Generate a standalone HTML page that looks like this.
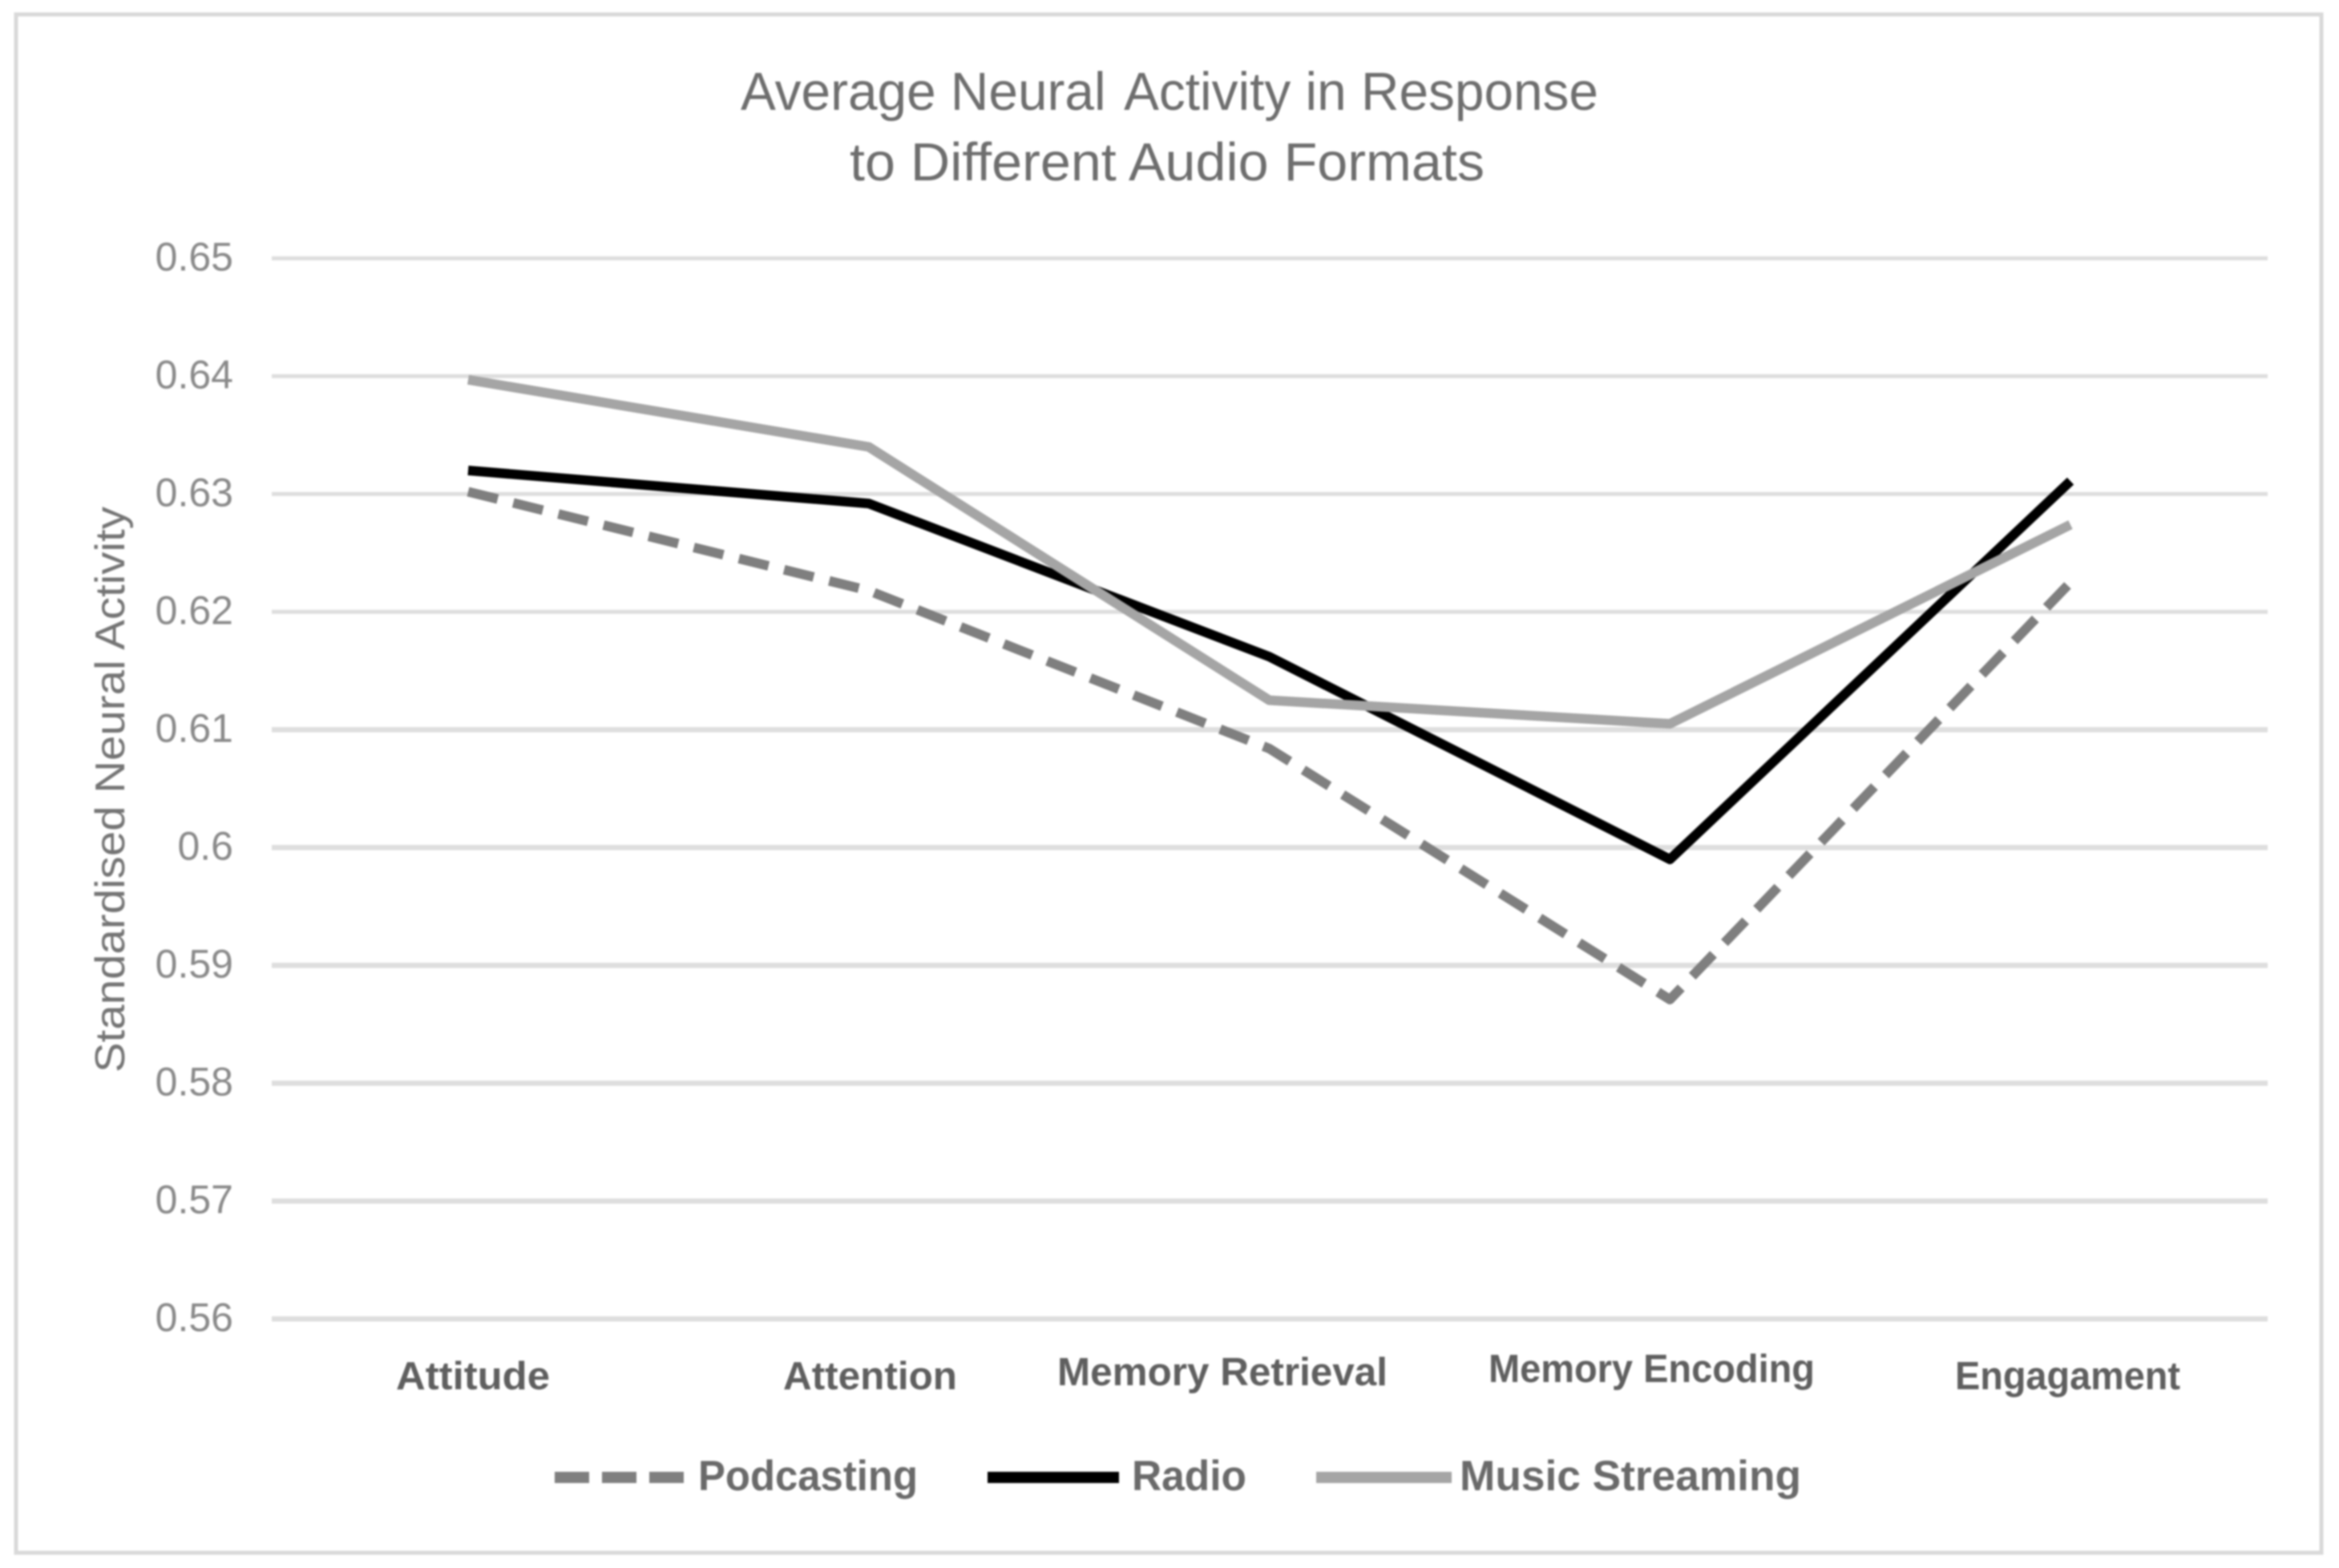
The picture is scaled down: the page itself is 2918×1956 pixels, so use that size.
<!DOCTYPE html>
<html lang="en">
<head>
<meta charset="utf-8">
<title>Average Neural Activity in Response to Different Audio Formats</title>
<style>
  html, body { margin: 0; padding: 0; background: #fff; }
  body { width: 2918px; height: 1956px; overflow: hidden; }
  svg { display: block; filter: blur(1px); font-family: "Liberation Sans", sans-serif; }
  .cat { font-size: 49px; font-weight: bold; fill: #5f5f5f; }
  .leg { font-size: 53px; font-weight: bold; fill: #6a6a6a; }
  .ttl { font-size: 67px; fill: #6e6e6e; }
  .tick { font-size: 50px; fill: #8a8a8a; text-anchor: end; }
</style>
</head>
<body>
<svg id="chart" width="2918" height="1956" viewBox="0 0 2918 1956" xmlns="http://www.w3.org/2000/svg">
  <rect x="0" y="0" width="2918" height="1956" fill="#ffffff"/>
  <rect x="20" y="18" width="2876" height="1919" fill="#ffffff" stroke="#d9d9d9" stroke-width="5"/>

  <g>
    <text class="ttl" x="924" y="137" textLength="1070" lengthAdjust="spacingAndGlyphs">Average Neural <tspan dx="8">Activity in Response</tspan></text>
    <text class="ttl" x="1060" y="225" textLength="792" lengthAdjust="spacingAndGlyphs">to Different Audio Formats</text>
  </g>

  <text transform="translate(155 1338) rotate(-90)" x="0" y="0" font-size="52" fill="#757575" textLength="706" lengthAdjust="spacingAndGlyphs">Standardised Neural Activity</text>

  <g id="grid"></g>
  <g id="ticks"></g>
  <g id="series"></g>

  <g>
    <text class="cat" x="494" y="1733" textLength="192" lengthAdjust="spacingAndGlyphs">Attitude</text>
    <text class="cat" x="977" y="1733" textLength="217" lengthAdjust="spacingAndGlyphs">Attention</text>
    <text class="cat" x="1319" y="1728" textLength="412" lengthAdjust="spacingAndGlyphs">Memory Retrieval</text>
    <text class="cat" x="1857" y="1724" textLength="407" lengthAdjust="spacingAndGlyphs">Memory Encoding</text>
    <text class="cat" x="2439" y="1733" textLength="281" lengthAdjust="spacingAndGlyphs">Engagament</text>
  </g>

  <g>
    <g>
      <line x1="692" y1="1843" x2="853" y2="1843" stroke="#7f7f7f" stroke-width="14" stroke-dasharray="43 16"/>
      <text class="leg" x="871" y="1859" textLength="274" lengthAdjust="spacingAndGlyphs">Podcasting</text>
    </g>
    <g>
      <line x1="1232" y1="1843" x2="1396" y2="1843" stroke="#000000" stroke-width="14"/>
      <text class="leg" x="1412" y="1859" textLength="143" lengthAdjust="spacingAndGlyphs">Radio</text>
    </g>
    <g>
      <line x1="1642" y1="1843" x2="1811" y2="1843" stroke="#a5a5a5" stroke-width="14"/>
      <text class="leg" x="1821" y="1859" textLength="426" lengthAdjust="spacingAndGlyphs">Music Streaming</text>
    </g>
  </g>
</svg>

<script>
const categories = ["Attitude", "Attention", "Memory Retrieval", "Memory Encoding", "Engagament"];
const yTickValues = [0.65, 0.64, 0.63, 0.62, 0.61, 0.6, 0.59, 0.58, 0.57, 0.56];
const yTickLabels = ["0.65", "0.64", "0.63", "0.62", "0.61", "0.6", "0.59", "0.58", "0.57", "0.56"];
const podcasting = [0.6302, 0.6218, 0.6084, 0.5871, 0.6225];
const radio = [0.632, 0.6292, 0.6162, 0.599, 0.6311];
const musicStreaming = [0.6397, 0.634, 0.6125, 0.6105, 0.6274];

const SVG_NS = "http://www.w3.org/2000/svg";
const yTop = 322.3, yBottom = 1645.3, yMax = 0.65, yMin = 0.56;
const xFirst = 584, xLast = 2583;
const gridLeft = 339, gridRight = 2829;

function xScale(i) {
  return xFirst + (xLast - xFirst) * i / (categories.length - 1);
}
function yScale(v) {
  return yTop + (yMax - v) / (yMax - yMin) * (yBottom - yTop);
}

const gridGroup = document.getElementById("grid");
const tickGroup = document.getElementById("ticks");
yTickValues.forEach(function (v, i) {
  const line = document.createElementNS(SVG_NS, "line");
  
  
  line.setAttribute("x1", gridLeft);
  line.setAttribute("x2", gridRight);
  line.setAttribute("y1", yScale(v));
  line.setAttribute("y2", yScale(v));
  line.setAttribute("stroke", "#dedede");
  line.setAttribute("stroke-width", i >= 4 ? "6.5" : "5");
  gridGroup.appendChild(line);

  const label = document.createElementNS(SVG_NS, "text");
  
  
  label.setAttribute("class", "tick");
  label.setAttribute("x", 291);
  label.setAttribute("y", yScale(v) + 15);
  label.textContent = yTickLabels[i];
  tickGroup.appendChild(label);
});

function drawSeries(values, name, color, dash) {
  const path = document.createElementNS(SVG_NS, "path");
  let d = "";
  categories.forEach(function (c, i) {
    d += (i === 0 ? "M" : "L") + xScale(i).toFixed(1) + " " + yScale(values[i]).toFixed(1) + " ";
  });
  path.setAttribute("d", d);
  path.setAttribute("fill", "none");
  path.setAttribute("stroke", color);
  path.setAttribute("stroke-width", "12");
  path.setAttribute("stroke-linejoin", "round");
  if (dash) path.setAttribute("stroke-dasharray", dash);
  path.setAttribute('data-series', name);
  document.getElementById("series").appendChild(path);
  return path;
}

const podcastingLine = drawSeries(podcasting, "podcasting", "#7f7f7f", "38 20");


const radioLine = drawSeries(radio, "radio", "#000000", null);


const musicLine = drawSeries(musicStreaming, "music-streaming", "#a5a5a5", null);


</script>
</body>
</html>
